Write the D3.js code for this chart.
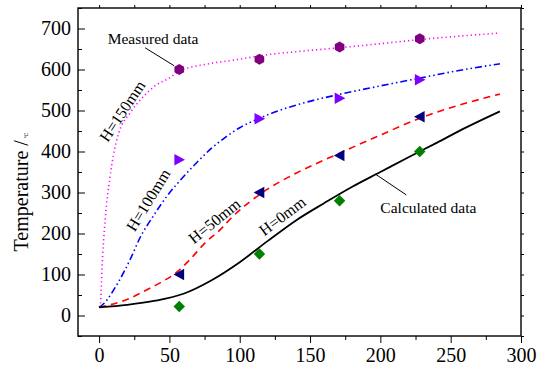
<!DOCTYPE html>
<html lang="en">
<head>
<meta charset="UTF-8">
<title>Temperature curves</title>
<script src="https://d3js.org/d3.v7.min.js"></script>
<style>
  body { margin: 0; background: #fff; }
  svg text { font-family: "Liberation Serif", "DejaVu Serif", serif; fill: #000; }
</style>
</head>
<body>
<svg id="chart" width="540" height="366"></svg>
<script>
// calculated curves (x, y)
const h0X = [0, 20, 40, 60, 80, 100, 120, 140, 160, 180, 200, 220, 240, 260, 285];
const h0Y = [20, 26, 36, 53, 86, 130, 182, 232, 274, 314, 350, 386, 421, 457, 498];

const h50X = [0, 12, 22, 34, 43, 55, 65, 75, 86, 96, 106, 117, 129, 140, 171, 200, 228, 255, 285];
const h50Y = [20, 30, 42, 63, 79, 105, 138, 176, 209, 245, 274, 302, 327, 347, 396, 440, 481, 512, 540];

const h100X = [0, 5, 9, 14, 22, 29, 39, 48, 58, 70, 80, 90, 100, 114, 124, 145, 169, 200, 228, 255, 285];
const h100Y = [20, 35, 55, 83, 136, 189, 245, 290, 331, 375, 408, 435, 458, 481, 495, 518, 538, 560, 579, 597, 614];

const h150X = [0, 1, 2, 4.3, 7.8, 10, 14, 22, 31.5, 41, 50, 57, 75, 96, 122, 145, 171, 200, 228, 255, 285];
const h150Y = [20, 30, 111, 233, 339, 388, 445, 494, 534, 563, 579, 596, 612, 623, 637, 645, 653, 663, 673, 681, 689];

// measured points
const measX = [57, 114, 171, 228];
const m0 = [22, 150, 280, 400];
const m50 = [100, 300, 390, 485];
const m100 = [380, 480, 530, 575];
const m150 = [600, 625, 655, 675];

// axis ticks
const xTicks = [0, 50, 100, 150, 200, 250, 300];
const yTicks = [0, 100, 200, 300, 400, 500, 600, 700];

const serif = "'Liberation Serif', 'DejaVu Serif', serif";
const svg = d3.select("#chart");
const plotL = 78, plotR = 521, plotT = 8, plotB = 336;

const x = d3.scaleLinear().domain([-15, 300]).range([plotL, plotR]);
const y = d3.scaleLinear().domain([-50, 750]).range([plotB, plotT]);

// custom marker shapes
const hexagon = { draw(ctx, size) {
  const r = Math.sqrt(size / 2.598);
  for (let i = 0; i < 6; i++) {
    const a = Math.PI / 3 * i + Math.PI / 6;
    if (i === 0) ctx.moveTo(r * Math.cos(a), r * Math.sin(a));
    else ctx.lineTo(r * Math.cos(a), r * Math.sin(a));
  }
  ctx.closePath();
}};
const triRight = { draw(ctx, size) {
  const h = Math.sqrt(size * 2) / 2;
  ctx.moveTo(h, 0); ctx.lineTo(-h * 0.85, -h); ctx.lineTo(-h * 0.85, h); ctx.closePath();
}};
const triLeft = { draw(ctx, size) {
  const h = Math.sqrt(size * 2) / 2;
  ctx.moveTo(-h, 0); ctx.lineTo(h * 0.85, -h); ctx.lineTo(h * 0.85, h); ctx.closePath();
}};
const diamond = { draw(ctx, size) {
  const r = Math.sqrt(size / 2);
  ctx.moveTo(0, -r); ctx.lineTo(r, 0); ctx.lineTo(0, r); ctx.lineTo(-r, 0); ctx.closePath();
}};

// frame
svg.append("rect")
  .attr("x", plotL).attr("y", plotT)
  .attr("width", plotR - plotL).attr("height", plotB - plotT)
  .attr("fill", "none").attr("stroke", "#111").attr("stroke-width", 1.5);

// left axis: major + minor inward
const yMinor = d3.range(-50, 751, 50).filter(v => v % 100 !== 0);
svg.append("g").attr("transform", `translate(${plotL},0)`)
  .call(d3.axisLeft(y).tickValues(yMinor).tickSize(-4).tickFormat(""))
  .call(g => g.select(".domain").remove());
const yAxis = svg.append("g").attr("transform", `translate(${plotL},0)`)
  .call(d3.axisLeft(y).tickValues(yTicks).tickSize(-7).tickPadding(7).tickFormat(d3.format("d")))
  .attr("font-size", 20).attr("font-family", serif);
yAxis.select(".domain").remove();

// bottom axis: outward
const xMinor = d3.range(25, 300, 50);
svg.append("g").attr("transform", `translate(0,${plotB})`)
  .call(d3.axisBottom(x).tickValues(xMinor).tickSize(4).tickFormat(""))
  .call(g => g.select(".domain").remove());
const xAxis = svg.append("g").attr("transform", `translate(0,${plotB})`)
  .call(d3.axisBottom(x).tickValues(xTicks).tickSize(7).tickPadding(5).tickFormat(d3.format("d")))
  .attr("font-size", 20).attr("font-family", serif);
xAxis.select(".domain").remove();

// top & right mirror ticks
svg.append("g").attr("transform", `translate(0,${plotT})`)
  .call(d3.axisTop(x).tickValues(d3.range(0, 301, 25)).tickSize(3).tickFormat(""))
  .call(g => g.select(".domain").remove());
svg.append("g").attr("transform", `translate(${plotR},0)`)
  .call(d3.axisRight(y).tickValues(d3.range(-50, 751, 50)).tickSize(3).tickFormat(""))
  .call(g => g.select(".domain").remove());

// y label
svg.append("text")
  .attr("transform", `translate(28,${(plotT + plotB) / 2 + 20}) rotate(-90)`)
  .attr("text-anchor", "middle")
  .attr("font-family", serif)
  .attr("font-size", 20)
  .text("Temperature /")
  .append("tspan").attr("font-size", 5).attr("dx", 2).text("℃");

// curves
const line = d3.line().x(d => x(d[0])).y(d => y(d[1])).curve(d3.curveMonotoneX);
const curves = [
  { xs: h150X, ys: h150Y, color: "#ff00ff", dash: "1.2,3", w: 1.6 },
  { xs: h100X, ys: h100Y, color: "#0000ff", dash: "7,3,1.5,3,1.5,3", w: 1.6 },
  { xs: h50X, ys: h50Y, color: "#ff0000", dash: "7,5", w: 1.6 },
  { xs: h0X, ys: h0Y, color: "#000000", dash: null, w: 1.8 }
];
curves.forEach(c => {
  svg.append("path")
    .datum(c.xs.map((v, i) => [v, c.ys[i]]))
    .attr("d", line)
    .attr("fill", "none")
    .attr("stroke", c.color)
    .attr("stroke-width", c.w)
    .attr("stroke-dasharray", c.dash);
});

// measured markers
const markers = [
  { ys: m150, type: hexagon, size: 80, color: "#800080" },
  { ys: m100, type: triRight, size: 66, color: "#8000ff" },
  { ys: m50, type: triLeft, size: 66, color: "#000080" },
  { ys: m0, type: diamond, size: 66, color: "#008000" }
];
markers.forEach(m => {
  svg.append("g").selectAll("path")
    .data(measX.map((v, i) => [v, m.ys[i]]))
    .join("path")
    .attr("transform", d => `translate(${x(d[0])},${y(d[1])})`)
    .attr("d", d3.symbol().type(m.type).size(m.size))
    .attr("fill", m.color);
});

// annotations
svg.append("text")
  .attr("font-family", serif).attr("font-size", 15.5)
  .attr("x", x(38.4)).attr("y", y(663)).attr("text-anchor", "middle")
  .text("Measured data");
svg.append("line")
  .attr("x1", x(32.7)).attr("y1", y(653)).attr("x2", x(53.4)).attr("y2", y(609))
  .attr("stroke", "#000").attr("stroke-width", 1);

svg.append("text")
  .attr("font-family", serif).attr("font-size", 15.5)
  .attr("x", x(200)).attr("y", y(250))
  .text("Calculated data");
svg.append("line")
  .attr("x1", x(196.4)).attr("y1", y(345)).attr("x2", x(218.5)).attr("y2", y(294))
  .attr("stroke", "#000").attr("stroke-width", 1);

const hLabels = [
  { t: "H=150mm", x: 16.4, y: 499, a: -56.5 },
  { t: "H=100mm", x: 34.9, y: 282, a: -58.5 },
  { t: "H=50mm", x: 81.9, y: 231, a: -39 },
  { t: "H=0mm", x: 130.2, y: 243, a: -37 }
];
svg.append("g").selectAll("text")
  .data(hLabels)
  .join("text")
  .attr("font-family", serif).attr("font-size", 16)
  .attr("text-anchor", "middle")
  .attr("dy", "0.35em")
  .attr("transform", d => `translate(${x(d.x)},${y(d.y)}) rotate(${d.a})`)
  .text(d => d.t);
</script>
</body>
</html>
